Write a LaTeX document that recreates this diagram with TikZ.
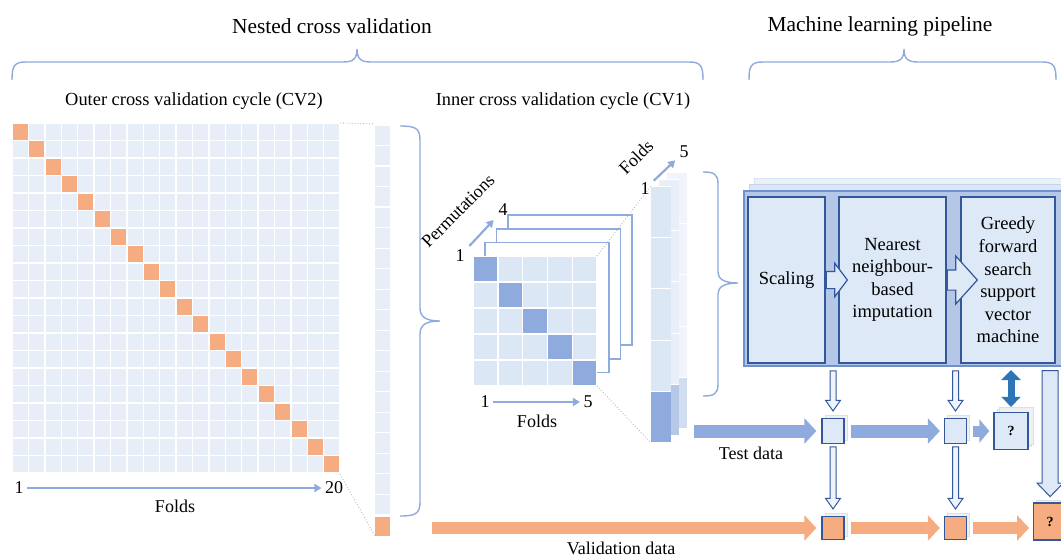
\documentclass[tikz,border=0pt]{standalone}
\usepackage{fontspec}
\setmainfont{Liberation Serif}
\usepackage{tikz}
\usetikzlibrary{arrows.meta, shapes.arrows, shadows}

% colours
\definecolor{cvorange}{RGB}{244,172,128}
\definecolor{gridblue}{RGB}{232,238,247}
\definecolor{celllight}{RGB}{220,231,245}
\definecolor{celldark}{RGB}{143,170,220}
\definecolor{bracecol}{RGB}{143,170,220}
\definecolor{pipefill}{RGB}{180,199,231}
\definecolor{pipeedge}{RGB}{110,145,205}
\definecolor{boxfill}{RGB}{221,233,247}
\definecolor{boxedge}{RGB}{50,88,155}
\definecolor{dblblue}{RGB}{46,117,182}

\tikzset{
  titletext/.style={font=\fontsize{21.4}{24}\selectfont},
  subtext/.style={font=\fontsize{18.4}{21}\selectfont},
  labeltext/.style={font=\fontsize{18}{21}\selectfont},
  bracket/.style={draw=bracecol, line width=1.4pt},
  zoomline/.style={dotted, draw=gray!55, line width=0.9pt},
  axisarrow/.style={draw=celldark, line width=2.2pt, -{Triangle[length=7pt,width=8pt]}},
  framebox/.style={draw=celldark, line width=1.8pt, fill=white},
  pipebox/.style={draw=pipeedge, fill=pipefill, line width=2pt, inner sep=0pt,
    copy shadow={shadow xshift=10pt, shadow yshift=12pt, draw=pipeedge!25, fill=pipefill!25, line width=1pt},
    copy shadow={shadow xshift=5pt, shadow yshift=6pt, draw=pipeedge!40, fill=pipefill!45, line width=1pt}},
  stagebox/.style={draw=boxedge, fill=boxfill, line width=1.5pt, minimum height=166pt,
    inner sep=0pt, align=center, font=\fontsize{18.5}{22.6}\selectfont},
  stagearrow/.style={single arrow, draw=boxedge, fill=boxfill, line width=1.2pt,
    inner sep=0pt, text depth=0pt, minimum width=0pt},
  testbox/.style={draw=boxedge, fill=boxfill, line width=1.3pt, minimum width=22pt,
    minimum height=25pt, inner sep=0pt, font=\fontsize{14}{16}\selectfont\bfseries,
    copy shadow={shadow xshift=3pt, shadow yshift=3pt, draw=gray!25, fill=gray!12, line width=0.6pt}},
  valbox/.style={testbox, fill=cvorange},
  hollowdown/.style={single arrow, rotate=-90, draw=boxedge, fill=boxfill!50!white,
    line width=1pt, inner sep=0pt, text height=5pt, text depth=0pt, minimum width=0pt,
    single arrow head extend=4.5pt, single arrow tip angle=70},
  testarrow/.style={draw=celldark, line width=13pt, -{Triangle[length=12pt,width=25pt]}},
  valarrow/.style={draw=cvorange, line width=12pt, -{Triangle[length=12pt,width=25pt]}},
  dblarrow/.style={draw=dblblue, line width=7pt,
    {Triangle[length=10pt,width=19pt]}-{Triangle[length=10pt,width=19pt]}}
}

\begin{document}
\begin{tikzpicture}[x=1pt, y=-1pt]
\useasboundingbox (0,0) rectangle (1061,559);

% titles
\node[titletext] (nested) at (332,26) {Nested cross validation};
\node[titletext] (mlpipe) at (880,26) {Machine learning pipeline};

% top braces
\draw[bracket] (12,80) .. controls (12,66) and (14,62) .. (26,62) -- (343,62)
  .. controls (353,62) and (357,59) .. (357,49) .. controls (357,59) and (361,62) .. (371,62)
  -- (689,62) .. controls (701,62) and (703,66) .. (703,80);
\draw[bracket] (749,80) .. controls (749,66) and (751,62) .. (763,62) -- (890,62)
  .. controls (900,62) and (904,59) .. (904,49) .. controls (904,59) and (908,62) .. (918,62)
  -- (1042,62) .. controls (1054,62) and (1056,66) .. (1056,80);

% subtitles
\node[subtext] (outer) at (194,101) {Outer cross validation cycle (CV2)};
\node[subtext] (inner) at (563,101) {Inner cross validation cycle (CV1)};

% outer grid
\foreach \i in {0,...,19}{
  \foreach \j in {0,...,19}{
    \fill[gridblue] ({12.7+\i*16.4},{123.7+\j*17.5}) rectangle ++(15,16.1);
  }
  \fill[cvorange] ({12.7+\i*16.4},{123.7+\i*17.5}) rectangle ++(15,16.1);
}

% outer column
\foreach \j in {0,...,18}{
  \fill[gridblue] (375,{125.6+\j*20.5}) rectangle ++(15,19.4);
}
\fill[cvorange] (375,517) rectangle (390,536);
\draw[zoomline] (340,123) -- (375,124);
\draw[zoomline] (340,474) -- (375,536);

% outer fold axis
\node[labeltext] (o1) at (19,488) {1};
\node[labeltext] (o20) at (334,488) {20};
\draw[axisarrow] (o1) -- (o20);
\node[labeltext] (ofolds) at (175,506) {Folds};

% brace to inner cycle
\draw[bracket] (400,126) .. controls (415,126) and (420,128) .. (420,140) -- (420,308)
  .. controls (420,317) and (426,321) .. (440,321) .. controls (426,321) and (420,325) .. (420,334)
  -- (420,502) .. controls (420,514) and (415,516) .. (400,516);

% permutation frames
\foreach \k in {3,2,1}{
  \draw[framebox] ({473+\k*11.7},{256-\k*13.6}) rectangle ++(124,130);
}

% inner matrix
\fill[white] (473,256) rectangle (597,386);
\foreach \i in {0,...,4}{
  \foreach \j in {0,...,4}{
    \fill[celllight] ({473.7+\i*24.8},{256.7+\j*26}) rectangle ++(23.4,24.6);
  }
  \fill[celldark] ({473.7+\i*24.8},{256.7+\i*26}) rectangle ++(23.4,24.6);
}
\node[labeltext] (p1) at (460,256) {1};
\node[labeltext] (p4) at (503,210) {4};
\draw[axisarrow, shorten <=2pt, shorten >=2pt] (p1) -- (p4);
\node[labeltext, rotate=45] (perm) at (458,211) {Permutations};
\node[labeltext] (i1) at (485,402) {1};
\node[labeltext] (i5) at (588,402) {5};
\draw[axisarrow] (i1) -- (i5);
\node[labeltext] (ifolds) at (537,421) {Folds};

% fold columns
\foreach \k/\shade in {2/40,1/65,0/100}{
  \fill[white] ({651+\k*8},{186-\k*7}) rectangle ++(20,257);
  \foreach \j in {0,...,3}{
    \fill[celllight!\shade!white] ({651+\k*8},{186.6-\k*7+\j*51.4}) rectangle ++(20,50.2);
  }
  \fill[celldark!\shade!white] ({651+\k*8},{186.6-\k*7+4*51.4}) rectangle ++(20,50.2);
}
\draw[zoomline] (597,256) -- (651,186);
\draw[zoomline] (597,386) -- (651,443);
\node[labeltext] (c1) at (645,189) {1};
\node[labeltext] (c5) at (684,152) {5};
\draw[axisarrow, shorten <=1pt, shorten >=1pt] (c1) -- (c5);
\node[labeltext, rotate=45] (cfolds) at (636,157) {Folds};

% brace to pipeline
\draw[bracket] (703,172) .. controls (714,172) and (718,174) .. (718,184) -- (718,272)
  .. controls (718,279) and (724,283) .. (738,283) .. controls (724,283) and (718,287) .. (718,294)
  -- (718,384) .. controls (718,394) and (714,396) .. (703,396);

% pipeline
\node[pipebox, anchor=north west, minimum width=323pt, minimum height=175pt] (pipe) at (743,190) {};
\node[stagebox, minimum width=77pt] (scal) at (786.5,280) {Scaling};
\node[stagebox, minimum width=107pt] (near) at (892.5,280) {Nearest\\neighbour-\\based\\imputation};
\node[stagebox, minimum width=94pt] (greedy) at (1008,280) {Greedy\\forward\\search\\support\\vector\\machine};
\node[stagearrow, anchor=tail, minimum height=21pt, text height=16pt,
  single arrow head extend=8pt, single arrow tip angle=106] (arr1) at (scal.east) {};
\node[stagearrow, anchor=tail, minimum height=30pt, text height=19pt,
  single arrow head extend=14pt, single arrow tip angle=96] (arr2) at (near.east) {};

% test and validation boxes
\node[testbox] (sqA) at (833,431) {};
\node[testbox] (sqB) at (955.5,431) {};
\node[testbox, minimum width=34pt, minimum height=37pt,
  copy shadow={shadow xshift=5pt, shadow yshift=5pt, draw=gray!25, fill=gray!12, line width=0.6pt}] (qtest) at (1011,431) {?};
\node[valbox, minimum height=23pt] (sqC) at (833,528) {};
\node[valbox, minimum height=23pt] (sqD) at (955.5,528) {};
\node[valbox, minimum width=33pt, minimum height=37pt, anchor=west] (qval) at (1033,521.5) {?};

% hollow arrows
\node[hollowdown, minimum height=40pt, anchor=tip] (d1) at ([yshift=6pt]sqA.north) {};
\node[hollowdown, minimum height=40pt, anchor=tip] (d2) at ([yshift=6pt]sqB.north) {};
\node[hollowdown, minimum height=62pt, anchor=tip] (d3) at ([yshift=6pt]sqC.north) {};
\node[hollowdown, minimum height=62pt, anchor=tip] (d4) at ([yshift=6pt]sqD.north) {};
\node[hollowdown, fill=boxfill, minimum height=126pt, anchor=tip, text height=15pt,
  single arrow head extend=5pt, single arrow tip angle=88] (d5) at ([yshift=5pt]qval.north) {};
\draw[dblarrow, shorten <=3pt] (qtest.north |- pipe.south) -- ([yshift=5pt]qtest.north);

% data arrows
\coordinate (tstart) at (694,431);
\draw[testarrow, shorten >=5pt] (tstart) -- (sqA);
\draw[testarrow, shorten <=6pt, shorten >=4pt] (sqA) -- (sqB);
\draw[testarrow, line width=11pt, -{Triangle[length=10pt,width=23pt]}, shorten <=6pt, shorten >=4pt] (sqB) -- (qtest);
\node[labeltext] (testlbl) at (751,453) {Test data};

\coordinate (vstart) at (432,528);
\draw[valarrow, shorten >=5pt] (vstart) -- (sqC);
\draw[valarrow, shorten <=6pt, shorten >=4pt] (sqC) -- (sqD);
\draw[valarrow, shorten <=6pt, shorten >=4pt] (sqD) -- (sqD -| qval.west);
\node[labeltext] (vallbl) at (621,548) {Validation data};

\end{tikzpicture}
\end{document}
